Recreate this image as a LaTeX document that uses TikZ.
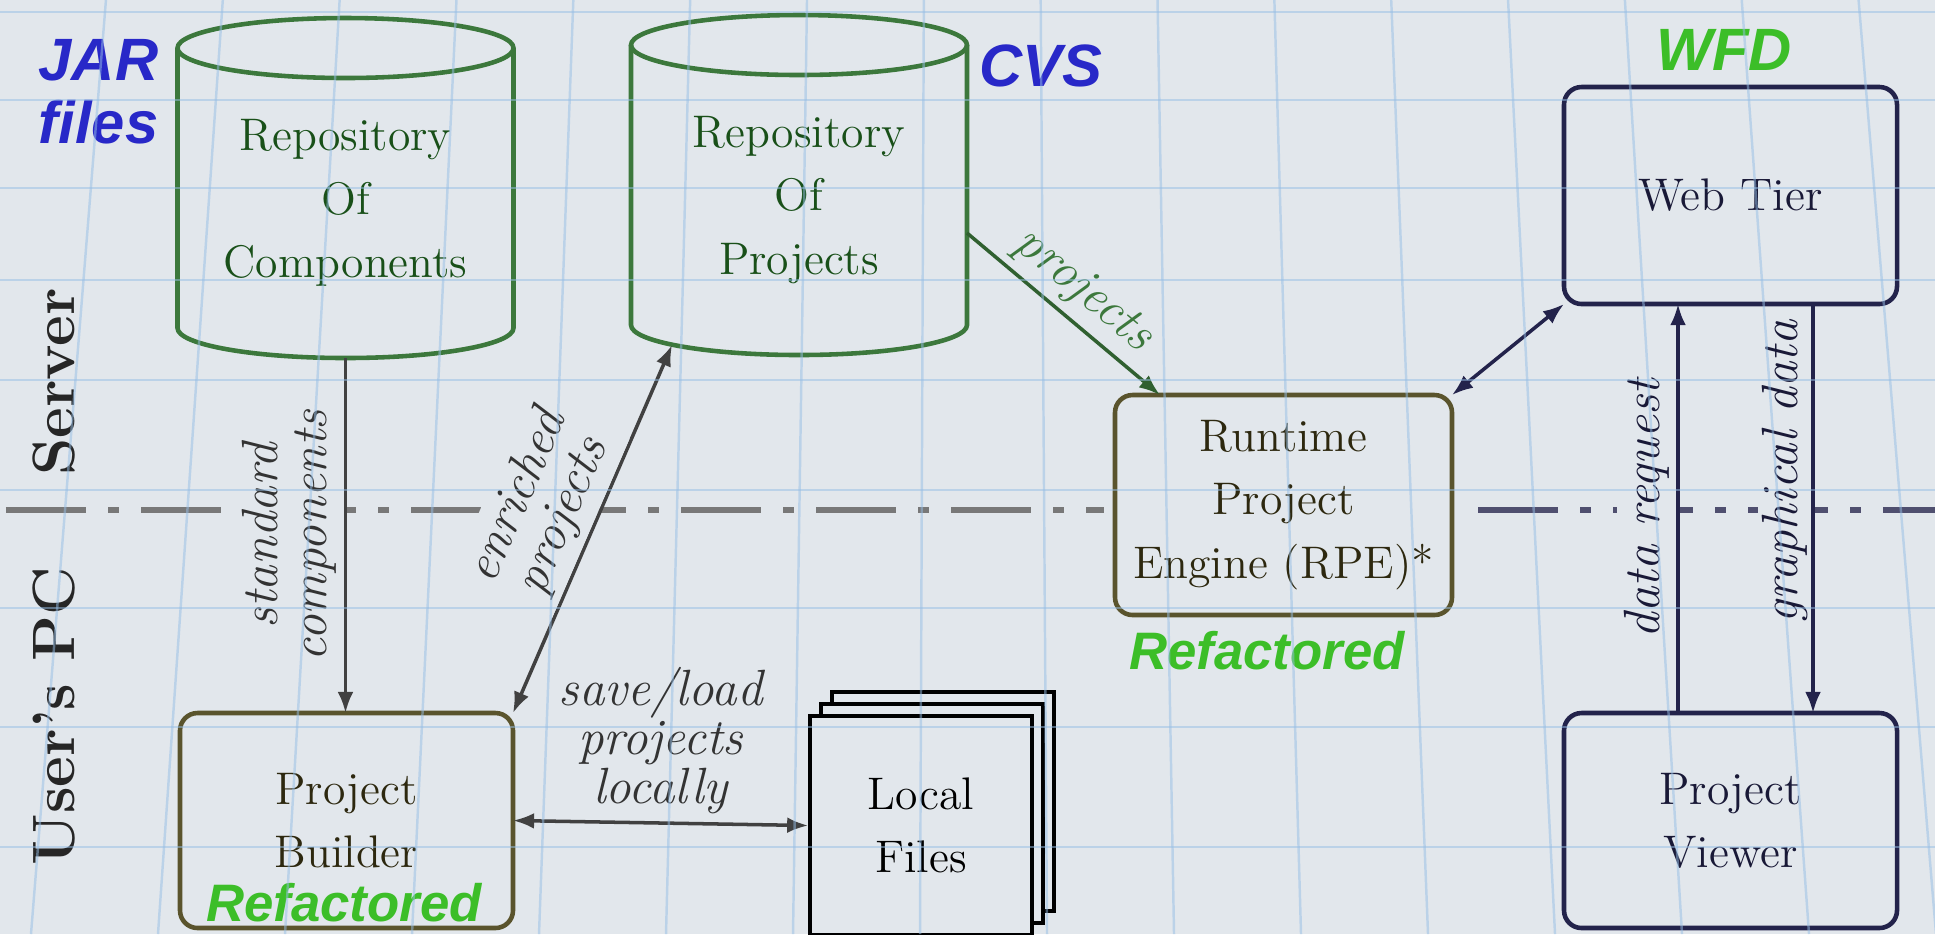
\documentclass[tikz,border=0pt]{standalone}
\usepackage{fontspec}
\setsansfont{Liberation Sans}
\definecolor{paper}{RGB}{226,231,236}
\definecolor{gridblue}{RGB}{150,190,230}
\definecolor{repogreen}{RGB}{60,120,60}
\definecolor{repotext}{RGB}{25,80,25}
\definecolor{olive1}{RGB}{90,84,45}
\definecolor{olivetext}{RGB}{45,40,15}
\definecolor{navy1}{RGB}{35,35,75}
\definecolor{navytext}{RGB}{25,25,55}
\definecolor{tagblue}{RGB}{40,40,200}
\definecolor{taggreen}{RGB}{60,190,40}
\definecolor{wiregray}{RGB}{65,65,65}
\definecolor{divgray}{RGB}{120,120,120}
\usetikzlibrary{shapes, arrows.meta, positioning, calc, shadows}

\tikzset{
  boxtext/.style={font=\fontsize{13}{18}\selectfont, align=center},
  repo/.style={boxtext, text=repotext, minimum width=3.36cm, minimum height=3.1cm, outer sep=0pt, inner sep=0pt},
  drum/.style={draw=repogreen, line width=1.3pt},
  unit/.style={boxtext, draw, rounded corners=5pt, line width=1.3pt, minimum width=3.33cm, minimum height=2.15cm, outer sep=0pt},
  tag/.style={font=\fontsize{17}{18}\selectfont\sffamily\bfseries\itshape, inner sep=0pt},
  remark/.style={font=\fontsize{15}{16}\selectfont\sffamily\bfseries\itshape, text=taggreen, inner sep=0pt},
  side/.style={rotate=90, font=\fontsize{17}{17}\selectfont\bfseries, text=black!85},
  wire/.style={line width=1pt, draw=wiregray},
  flow/.style={font=\fontsize{14.5}{14}\selectfont\itshape, inner sep=2pt, align=center, text=black!80},
  arrowto/.style={-{Latex[length=6pt, width=4.5pt]}},
  twoway/.style={{Latex[length=6pt, width=4.5pt]}-{Latex[length=6pt, width=4.5pt]}},
  divider/.style={line width=1.6pt, dash pattern=on 0.8cm off 0.22cm on 0.11cm off 0.22cm},
}

% drum outline round a repository node
\newcommand{\drumoutline}[1]{%
  \draw[drum] (#1.north west) -- ($(#1.south west)+(0,0.3)$)
    arc[start angle=180, end angle=360, x radius=1.68cm, y radius=0.3cm] -- (#1.north east);
  \draw[drum] (#1.north) ellipse [x radius=1.68cm, y radius=0.3cm];
}

\begin{document}
\begin{tikzpicture}
  \useasboundingbox (0,0) rectangle (19.35,-9.34);
  \fill[paper] (0,0) rectangle (19.35,-9.34);

  % Server / user's PC split
  \coordinate (divl) at (0.06,-5.10);
  \coordinate (divr) at (19.35,-5.10);
  \node[side] (serverside) at (0.54,-3.82) {Server};
  \node[side] (pcside) at (0.54,-7.16) {User's PC};

  % Repositories
  \node[repo] (components) at (3.455,-2.03) {Repository\\Of\\Components};
  \drumoutline{components}
  \node[repo] (projects) at (7.99,-2.0) {Repository\\Of\\Projects};
  \drumoutline{projects}
  \node[tag, text=tagblue, align=left, anchor=west] (jar) at (0.38,-0.92) {JAR\\files};
  \node[tag, text=tagblue] (cvs) at (10.41,-0.66) {CVS};

  % Runtime engine and web tier
  \node[unit, draw=olive1, text=olivetext, minimum width=3.37cm, minimum height=2.2cm] (rpe) at (12.835,-5.05) {Runtime\\Project\\Engine (RPE)*};
  \node[remark] (rperefac) at (12.67,-6.51) {Refactored};
  \node[unit, draw=navy1, text=navytext, minimum height=2.17cm] (webtier) at (17.305,-1.955) {Web Tier};
  \node[tag, text=taggreen] (wfd) at (17.24,-0.5) {WFD};

  % Client side
  \node[unit, draw=olive1, text=olivetext] (builder) at (3.465,-8.205) {Project\\Builder};
  \node[remark] (builderfac) at (3.44,-9.03) {Refactored};
  \node[boxtext, draw=black, line width=1pt, fill=paper, minimum width=2.22cm, minimum height=2.19cm,
        double copy shadow={shadow xshift=1.1mm, shadow yshift=1.2mm}] (files) at (9.21,-8.255) {Local\\Files};
  \node[unit, draw=navy1, text=navytext] (viewer) at (17.305,-8.205) {Project\\Viewer};

  % Dash-dot boundary
  \draw[divider, divgray] (divl) -- ([xshift=-1.1mm]rpe.west |- divl);
  \draw[divider, navy1!80] ([xshift=2.6mm]rpe.east |- divl) -- (divr);

  % Connectors
  \coordinate (projfoot) at ($(projects.south)+(-1.27,0.1)$);
  \coordinate (projside) at ($(projects.east)+(0,-0.33)$);
  \coordinate (rpeinlet) at ($(rpe.north west)+(0.45,0)$);

  \draw[wire, arrowto] (components.south) -- node[flow, fill=paper, rotate=90, anchor=south] (stdlabel) {standard\\components} (components.south |- builder.north);
  \draw[wire, twoway] (builder.north east) -- node[flow, fill=paper, sloped, above] (enrlabel) {enriched\\projects} (projfoot);
  \draw[wire, draw=repogreen!80!black, arrowto] (projside) -- node[flow, sloped, above, text=repogreen] (projlabel) {projects} (rpeinlet);
  \draw[wire, twoway] (builder.east) -- node[flow, above, font=\fontsize{14.5}{11.5}\selectfont\itshape] (savelabel) {save/load\\projects\\locally} (files.west);
  \draw[wire, draw=navy1, twoway] (rpe.north east) -- (webtier.south west);
  \draw[wire, draw=navy1, arrowto] ([xshift=-5.25mm]viewer.north) -- node[flow, fill=paper, rotate=90, anchor=south, text=navytext] (reqlabel) {data request} ([xshift=-5.25mm]webtier.south);
  \draw[wire, draw=navy1, arrowto] ([xshift=8.25mm]webtier.south) -- node[flow, fill=paper, rotate=90, anchor=south, pos=0.41, inner sep=1pt, text=navytext] (gfxlabel) {graphical data} ([xshift=8.25mm]viewer.north);

  % Graph paper showing through
  \begin{scope}[gridblue, line width=0.7pt, opacity=0.5]
    \foreach \gy in {0.12,1.0,1.88,2.8,3.8,4.9,6.08,7.27,8.47}
      \draw (0,-\gy) -- (19.35,-\gy);
    \foreach \k in {0,...,15}
      \draw ({0.31+1.27*\k},-9.34) -- ({9.68+(0.31+1.27*\k-9.68)*0.92},0);
  \end{scope}
\end{tikzpicture}
\end{document}
